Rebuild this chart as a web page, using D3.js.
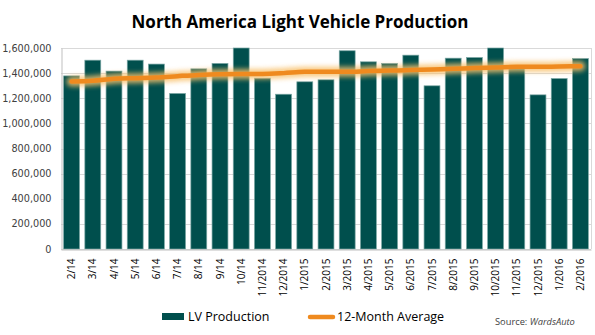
<!DOCTYPE html>
<html>
<head>
<meta charset="utf-8">
<script src="https://cdn.jsdelivr.net/npm/d3@7"></script>
<style>
  body { margin: 0; background: #fff; }
  svg { display: block; }
</style>
</head>
<body>
<div id="chart"></div>
<script>
// Chart data
const months = ["2/14", "3/14", "4/14", "5/14", "6/14", "7/14", "8/14", "9/14", "10/14",
  "11/2014", "12/2014", "1/2015", "2/2015", "3/2015", "4/2015", "5/2015", "6/2015",
  "7/2015", "8/2015", "9/2015", "10/2015", "11/2015", "12/2015", "1/2016", "2/2016"];

const production = [1378000, 1503000, 1416000, 1503000, 1472000, 1238000, 1434000, 1477000, 1600000,
  1360000, 1232000, 1331000, 1347000, 1578000, 1490000, 1477000, 1543000,
  1299000, 1519000, 1524000, 1600000, 1435000, 1227000, 1357000, 1516000];

const avg12 = [1333000, 1339000, 1355000, 1360000, 1365000, 1376000, 1386000, 1392000, 1394000,
  1394000, 1400000, 1410000, 1410000, 1410000, 1416000, 1420000, 1424000,
  1429000, 1434000, 1440000, 1445000, 1450000, 1450000, 1453000, 1455000];

const yTicks = [0, 200000, 400000, 600000, 800000, 1000000, 1200000, 1400000, 1600000];

const width = 595;
const height = 335;
const plot = { left: 61, right: 591, top: 48, bottom: 249 };

const svg = d3.select("#chart")
    .append("svg")
    .attr("width", width)
    .attr("height", height);

// glow for the average line
const defs = svg.append("defs");
const glow = defs.append("filter")
    .attr("id", "glow")
    .attr("x", "-10%").attr("y", "-200%")
    .attr("width", "120%").attr("height", "500%");
glow.append("feGaussianBlur").attr("stdDeviation", 2.5);

const x = d3.scaleBand()
    .domain(months)
    .range([plot.left, plot.right])
    .paddingInner(0.25)
    .paddingOuter(0.125);

const y = d3.scaleLinear()
    .domain([0, 1600000])
    .range([plot.bottom, plot.top]);

// title
svg.append("text")
    .attr("x", 300)
    .attr("y", 28)
    .attr("text-anchor", "middle")
    .style("font-family", "'Open Sans', sans-serif")
    .style("font-weight", "bold")
    .style("font-size", "17px")
    .attr("fill", "#000")
    .text("North America Light Vehicle Production");

// gridlines
svg.append("g")
    .selectAll("line")
    .data(yTicks)
    .enter().append("line")
    .attr("x1", plot.left)
    .attr("x2", plot.right)
    .attr("y1", d => Math.round(y(d)) + 0.5)
    .attr("y2", d => Math.round(y(d)) + 0.5)
    .attr("stroke", "#d9d9d9")
    .attr("stroke-width", 1);

// right border of plot area
svg.append("line")
    .attr("x1", plot.right + 0.5).attr("x2", plot.right + 0.5)
    .attr("y1", plot.top).attr("y2", plot.bottom)
    .attr("stroke", "#d9d9d9");

// y axis
const yAxis = svg.append("g")
    .attr("transform", `translate(${plot.left + 0.5},0)`)
    .call(d3.axisLeft(y).tickValues(yTicks).tickFormat(d3.format(",")).tickSize(0).tickPadding(10));
yAxis.select(".domain").attr("stroke", "#bfbfbf");
yAxis.selectAll("text")
    .style("font-family", "'DejaVu Sans', sans-serif")
    .style("font-size", "9.7px")
    .attr("fill", "#404040");

// bars
svg.append("g")
    .selectAll("rect")
    .data(production)
    .enter().append("rect")
    .attr("x", (d, i) => x(months[i]))
    .attr("y", d => y(d))
    .attr("width", x.bandwidth())
    .attr("height", d => plot.bottom - y(d))
    .attr("fill", "#004f4d")
    .attr("stroke", "#79a5a3")
    .attr("stroke-width", 0.7);

// x axis labels
const xAxis = svg.append("g")
    .attr("transform", `translate(0,${plot.bottom + 0.5})`)
    .call(d3.axisBottom(x).tickSize(0).tickPadding(0));
xAxis.select(".domain").attr("stroke", "#bfbfbf");
xAxis.selectAll("text")
    .attr("transform", "rotate(-90)")
    .attr("text-anchor", "end")
    .attr("x", -9)
    .attr("y", 0)
    .attr("dy", "0.35em")
    .style("font-family", "'Open Sans', sans-serif")
    .style("font-size", "10px")
    .attr("fill", "#000");

// 12-month average line
const line = d3.line()
    .x((d, i) => x(months[i]) + x.bandwidth() / 2)
    .y(d => y(d))
    .curve(d3.curveMonotoneX);

svg.append("path")
    .datum(avg12)
    .attr("d", line)
    .attr("fill", "none")
    .attr("stroke", "#f8c06a")
    .attr("stroke-width", 10)
    .attr("stroke-linecap", "round")
    .attr("opacity", 0.85)
    .attr("filter", "url(#glow)");

svg.append("path")
    .datum(avg12)
    .attr("d", line)
    .attr("fill", "none")
    .attr("stroke", "#ef8a1f")
    .attr("stroke-width", 4.5)
    .attr("stroke-linecap", "round");

// legend
const legend = svg.append("g")
    .style("font-family", "'Open Sans', sans-serif")
    .style("font-size", "12.5px");

legend.append("rect")
    .attr("x", 162).attr("y", 313)
    .attr("width", 22).attr("height", 7)
    .attr("fill", "#004f4d");
legend.append("text")
    .attr("x", 188).attr("y", 321)
    .attr("fill", "#000")
    .text("LV Production");

legend.append("line")
    .attr("x1", 310).attr("x2", 333)
    .attr("y1", 317).attr("y2", 317)
    .attr("stroke", "#ef8a1f")
    .attr("stroke-width", 4.5)
    .attr("stroke-linecap", "round");
legend.append("text")
    .attr("x", 337).attr("y", 321)
    .attr("fill", "#000")
    .text("12-Month Average");

// source note
const source = svg.append("text")
    .attr("x", 495).attr("y", 325)
    .style("font-family", "'Open Sans', sans-serif")
    .style("font-size", "9.3px")
    .attr("fill", "#404040");
source.append("tspan").text("Source: ");
source.append("tspan").style("font-style", "italic").text("WardsAuto");
</script>
</body>
</html>
